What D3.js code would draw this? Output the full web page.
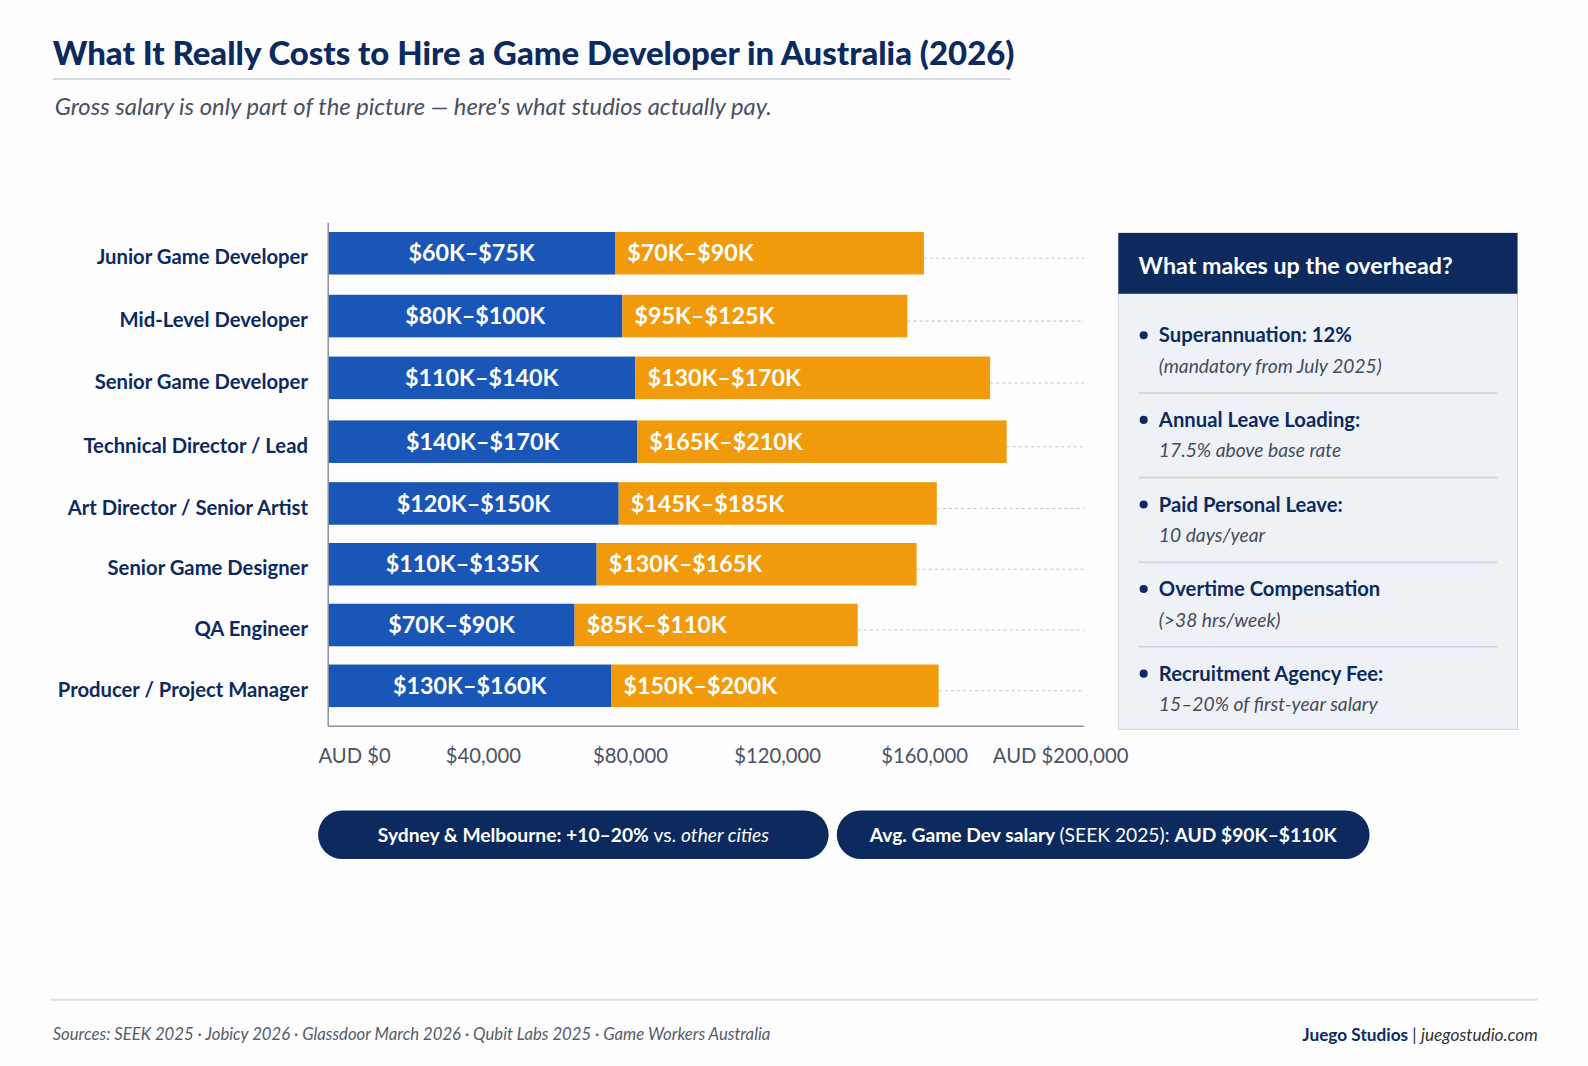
<!DOCTYPE html>
<html><head><meta charset="utf-8">
<script src="https://cdn.jsdelivr.net/npm/d3@7"></script>
<style>
body{margin:0;background:#fdfdfe;font-family:Lato,"Open Sans",sans-serif;}
</style></head><body>
<svg id="c" width="1588" height="1066"></svg>
<script>
const roles = ["Junior Game Developer","Mid-Level Developer","Senior Game Developer","Technical Director / Lead","Art Director / Senior Artist","Senior Game Designer","QA Engineer","Producer / Project Manager"];
const salaryLabels = ["$60K–$75K","$80K–$100K","$110K–$140K","$140K–$170K","$120K–$150K","$110K–$135K","$70K–$90K","$130K–$160K"];
const costLabels = ["$70K–$90K","$95K–$125K","$130K–$170K","$165K–$210K","$145K–$185K","$130K–$165K","$85K–$110K","$150K–$200K"];
// bar ends as drawn (AUD), stacked
const salaryEnd = [78000,80000,83500,84000,79000,73000,67000,77000];
const totalEnd = [162000,157500,180000,184500,165500,160000,144000,166000];
const ticks = [0,40000,80000,120000,160000,200000];
const rowCenters = [250,312,373,436,497,557,617,677];
const overhead = [
  ["Superannuation: 12%","(mandatory from July 2025)"],
  ["Annual Leave Loading:","17.5% above base rate"],
  ["Paid Personal Leave:","10 days/year"],
  ["Overtime Compensation","(>38 hrs/week)"],
  ["Recruitment Agency Fee:","15–20% of first-year salary"]
];
const navy="#0c2a5e", blue="#1a56b8", orange="#f19a0b";
const svg=d3.select("#c").append("g").attr("transform","scale(1.013)");

svg.append("text").attr("x",52).attr("y",64).attr("font-size",32.5).attr("font-weight",900).attr("fill",navy)
  .text("What It Really Costs to Hire a Game Developer in Australia (2026)");
svg.append("line").attr("x1",52).attr("x2",998).attr("y1",78).attr("y2",78).attr("stroke","#d5d9e2").attr("stroke-width",2);
svg.append("text").attr("x",54).attr("y",114).attr("font-size",23.5).attr("font-style","italic").attr("fill","#4a5060")
  .text("Gross salary is only part of the picture — here's what studios actually pay.");

const x=d3.scaleLinear().domain([0,200000]).range([324,1050]);

svg.selectAll(".guide").data(roles).enter().append("line")
  .attr("x1",(d,i)=>x(totalEnd[i])).attr("x2",1070)
  .attr("y1",(d,i)=>rowCenters[i]+5).attr("y2",(d,i)=>rowCenters[i]+5)
  .attr("stroke","#c3c8d2").attr("stroke-dasharray","3,3");

const bh=42;
svg.selectAll(".b").data(roles).enter().append("rect")
  .attr("x",x(0)).attr("y",(d,i)=>rowCenters[i]-bh/2).attr("height",bh)
  .attr("width",(d,i)=>x(salaryEnd[i])-x(0)).attr("fill",blue);
svg.selectAll(".o").data(roles).enter().append("rect")
  .attr("x",(d,i)=>x(salaryEnd[i])).attr("y",(d,i)=>rowCenters[i]-bh/2).attr("height",bh)
  .attr("width",(d,i)=>x(totalEnd[i])-x(salaryEnd[i])).attr("fill",orange);
svg.selectAll(".bl").data(salaryLabels).enter().append("text")
  .attr("x",(d,i)=>(x(0)+x(salaryEnd[i]))/2).attr("y",(d,i)=>rowCenters[i]+8)
  .attr("text-anchor","middle").attr("fill","#fff").attr("font-size",23).attr("font-weight",700).text(d=>d);
svg.selectAll(".ol").data(costLabels).enter().append("text")
  .attr("x",(d,i)=>x(salaryEnd[i])+12).attr("y",(d,i)=>rowCenters[i]+8)
  .attr("fill","#fff").attr("font-size",23).attr("font-weight",700).text(d=>d);
svg.selectAll(".rl").data(roles).enter().append("text")
  .attr("x",304).attr("y",(d,i)=>rowCenters[i]+11).attr("text-anchor","end")
  .attr("fill",navy).attr("font-size",20).attr("font-weight",700).text(d=>d);

svg.append("line").attr("x1",324).attr("x2",324).attr("y1",220).attr("y2",717).attr("stroke","#8a909c").attr("stroke-width",1.5);
svg.append("line").attr("x1",324).attr("x2",1070).attr("y1",717).attr("y2",717).attr("stroke","#8a909c").attr("stroke-width",1.5);
const fmt=d3.format(",");
svg.selectAll(".tk").data(ticks).enter().append("text")
  .attr("x",d=>d===0?350:(d===200000?1047:x(d)+8)).attr("y",753).attr("text-anchor","middle")
  .attr("fill","#4a5366").attr("font-size",20)
  .text(d=>(d===0||d===200000?"AUD ":"")+"$"+fmt(d));

const px=1104,py=230,pw=394,ph=490;
svg.append("rect").attr("x",px).attr("y",py).attr("width",pw).attr("height",ph).attr("fill","#eef2f7").attr("stroke","#cdd5e0");
svg.append("rect").attr("x",px).attr("y",py).attr("width",pw).attr("height",60).attr("fill",navy);
svg.append("text").attr("x",px+20).attr("y",py+40).attr("fill","#fff").attr("font-size",23).attr("font-weight",700).text("What makes up the overhead?");
overhead.forEach((o,i)=>{
  const yy=py+108+i*83.5;
  svg.append("circle").attr("cx",px+25).attr("cy",yy-7).attr("r",4).attr("fill",navy);
  svg.append("text").attr("x",px+40).attr("y",yy).attr("fill",navy).attr("font-size",20).attr("font-weight",700).text(o[0]);
  svg.append("text").attr("x",px+40).attr("y",yy+30).attr("fill","#444c5c").attr("font-size",19).attr("font-style","italic").text(o[1]);
  if(i<4) svg.append("line").attr("x1",px+20).attr("x2",px+pw-20).attr("y1",yy+50).attr("y2",yy+50).attr("stroke","#cdd3dc").attr("stroke-width",1.5);
});

function pill(x0,w,parts){
  svg.append("rect").attr("x",x0).attr("y",800).attr("width",w).attr("height",48).attr("rx",24).attr("fill",navy);
  const t=svg.append("text").attr("x",x0+w/2).attr("y",831).attr("text-anchor","middle").attr("fill","#fff").attr("font-size",19);
  parts.forEach(p=>t.append("tspan").attr("font-weight",p[1]).attr("font-style",p[2]||"normal").text(p[0]));
}
pill(314,504,[["Sydney & Melbourne: +10–20% ",700],["vs. ",400],["other cities",400,"italic"]]);
pill(826,526,[["Avg. Game Dev salary ",700],["(SEEK 2025): ",400],["AUD $90K–$110K",700]]);

svg.append("line").attr("x1",50).attr("x2",1518).attr("y1",987).attr("y2",987).attr("stroke","#dde1e7").attr("stroke-width",2);
svg.append("text").attr("x",52).attr("y",1027).attr("fill","#555c68").attr("font-size",16.5).attr("font-style","italic")
  .text("Sources: SEEK 2025 · Jobicy 2026 · Glassdoor March 2026 · Qubit Labs 2025 · Game Workers Australia");
const ft=svg.append("text").attr("x",1518).attr("y",1028).attr("text-anchor","end").attr("font-size",17).attr("fill",navy);
ft.append("tspan").attr("font-weight",700).text("Juego Studios ");
ft.append("tspan").attr("fill","#333").text("| ");
ft.append("tspan").attr("font-style","italic").attr("fill","#333").text("juegostudio.com");
</script></body></html>
